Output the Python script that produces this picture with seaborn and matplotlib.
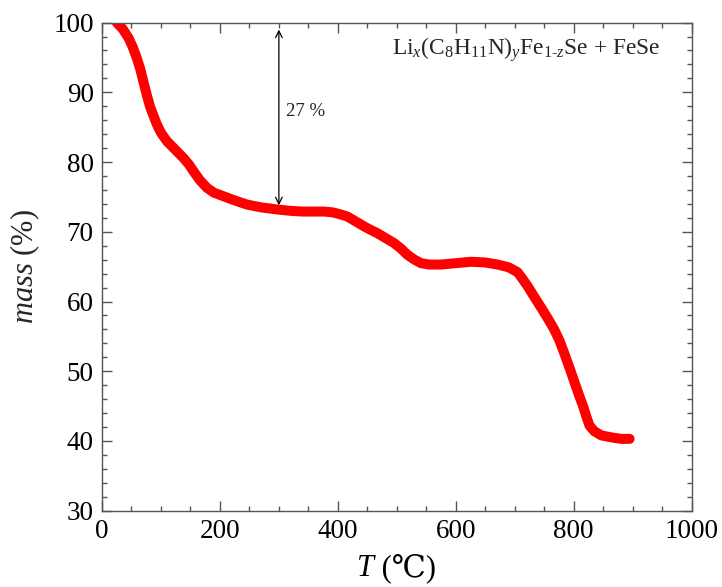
import numpy as np
import pandas as pd
import matplotlib
matplotlib.use("Agg")
import matplotlib.pyplot as plt
from matplotlib.ticker import MultipleLocator
from matplotlib.offsetbox import TextArea, HPacker, AnchoredOffsetbox
import seaborn as sns

# TGA curve
temp = [25, 35, 45, 52, 59, 65, 70, 76, 82, 88, 93, 100, 110, 124, 138, 147,
        155, 166, 178, 190, 206, 225, 246, 270, 297, 320, 340, 360, 376, 390,
        400, 408, 416, 430, 444, 455, 467, 481, 495, 507, 518, 530, 541, 555,
        575, 600, 626, 650, 671, 690, 705, 712, 722, 733, 745, 756, 767, 776,
        784, 793, 802, 809, 816, 822, 827, 835, 847, 865, 881, 895]
mass = [100.0, 99.1, 97.8, 96.5, 94.9, 93.3, 91.6, 89.6, 87.8, 86.5, 85.4,
        84.2, 83.0, 81.8, 80.6, 79.7, 78.7, 77.4, 76.3, 75.6, 75.1, 74.5,
        73.9, 73.5, 73.2, 73.0, 72.9, 72.9, 72.9, 72.8, 72.6, 72.4, 72.2,
        71.5, 70.8, 70.3, 69.8, 69.1, 68.4, 67.6, 66.7, 66.0, 65.5, 65.3,
        65.3, 65.5, 65.7, 65.6, 65.3, 64.9, 64.2, 63.4, 62.2, 60.7, 59.1,
        57.6, 56.0, 54.4, 52.6, 50.5, 48.3, 46.6, 45.0, 43.4, 42.2, 41.4,
        40.8, 40.5, 40.3, 40.3]
loss_top = 99.0
loss_bottom = 73.8
loss_T = 300
loss_label = "27 %"
sample = r"Li$_{x}$(C$_{8}$H$_{11}$N)$_{y}$Fe$_{1\text{-}z}$Se + FeSe"

df = pd.DataFrame({"T": temp, "mass": mass})

sns.set_theme(style="ticks")
serif = ["Liberation Serif", "DejaVu Serif"]
plt.rcParams["font.family"] = serif
plt.rcParams["mathtext.fontset"] = "custom"
plt.rcParams["mathtext.rm"] = "Liberation Serif"
plt.rcParams["mathtext.it"] = "Liberation Serif:italic"
plt.rcParams["mathtext.bf"] = "Liberation Serif:bold"

fig = plt.figure(figsize=(7.22, 5.87), dpi=100)
ax = fig.add_axes([0.1413, 0.130, 0.8165, 0.8315])

sns.lineplot(data=df, x="T", y="mass", ax=ax, color="#ff0000", lw=7.2,
             solid_capstyle="round", solid_joinstyle="round", sort=False)

ax.set_xlim(0, 1000)
ax.set_ylim(30, 100)
ax.xaxis.set_major_locator(MultipleLocator(200))
ax.xaxis.set_minor_locator(MultipleLocator(50))
ax.yaxis.set_major_locator(MultipleLocator(10))
ax.yaxis.set_minor_locator(MultipleLocator(2))
ax.tick_params(which="both", direction="in", top=True, right=True,
               color="#555555", width=1)
ax.tick_params(which="major", length=7, labelsize=19.5, pad=6, labelcolor="black")
ax.tick_params(which="minor", length=3.5)
for s in ax.spines.values():
    s.set_color("#555555")
    s.set_linewidth(1)

# x label: italic T plus the Celsius sign from a font that has it
xlab = HPacker(children=[
    TextArea("T", textprops=dict(fontsize=22, style="italic", color="black")),
    TextArea(" (℃)", textprops=dict(fontsize=22, family=serif, color="black")),
], align="baseline", pad=0, sep=0)
ax.add_artist(AnchoredOffsetbox(loc="upper center", child=xlab, frameon=False,
                                bbox_to_anchor=(0.5, -0.088),
                                bbox_transform=ax.transAxes, pad=0, borderpad=0))
ax.set_xlabel("")
ax.set_ylabel(r"$mass$ (%)", fontsize=22, labelpad=8)

ax.annotate("", xy=(loss_T, loss_bottom), xytext=(loss_T, loss_top),
            arrowprops=dict(arrowstyle="<->", color="black", lw=0.9,
                            shrinkA=0, shrinkB=0, mutation_scale=12))
ax.text(loss_T + 12, 87.3, loss_label, fontsize=13.5, va="center", ha="left")
ax.text(720, 96.1, sample, fontsize=16.8, va="center", ha="center")

fig.savefig("out.png", dpi=100)
